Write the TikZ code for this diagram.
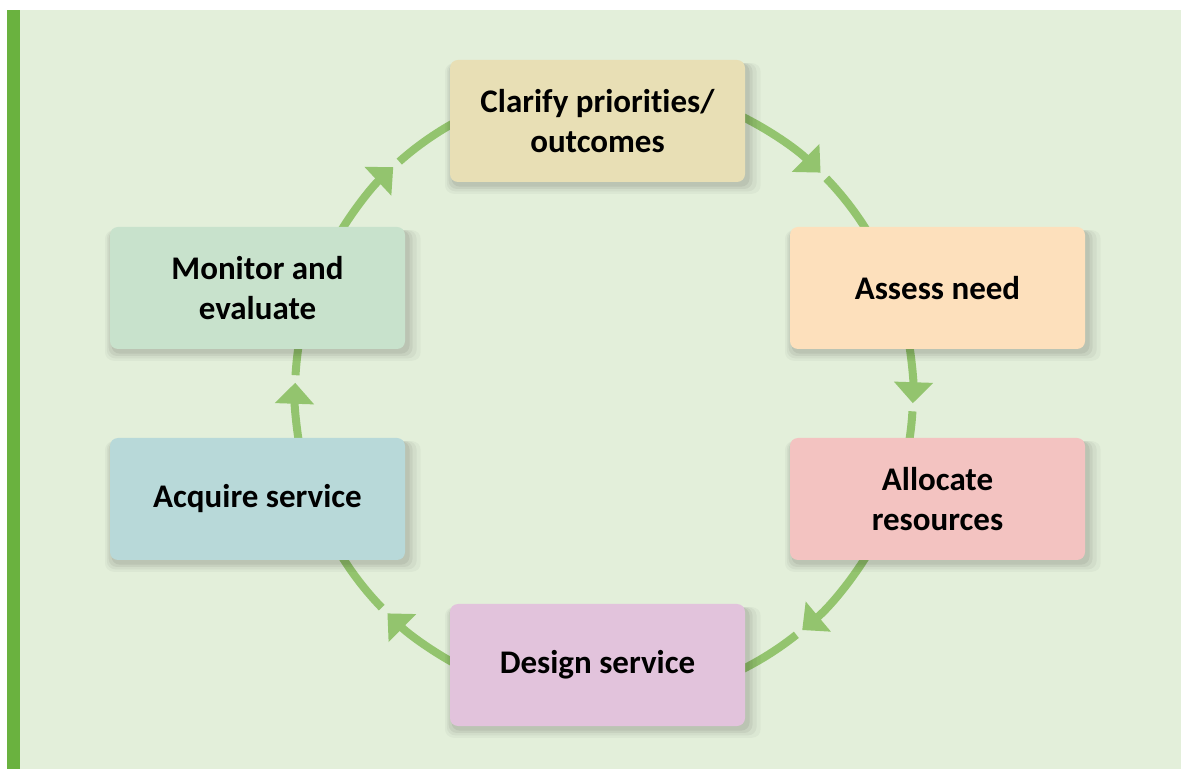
\documentclass[tikz,border=0pt]{standalone}
\usepackage{fontspec}
\setmainfont{Carlito}[Ligatures=NoCommon]
\usetikzlibrary{arrows.meta,shadows,calc}
\definecolor{bgc}{HTML}{E3EFDA}
\definecolor{barc}{HTML}{6AB23F}
\definecolor{arrc}{HTML}{93C46E}
\definecolor{cTop}{HTML}{E8DFB5}
\definecolor{cAssess}{HTML}{FDE0BC}
\definecolor{cAlloc}{HTML}{F3C3C1}
\definecolor{cDesign}{HTML}{E2C3DC}
\definecolor{cAcquire}{HTML}{B8D9D9}
\definecolor{cMonitor}{HTML}{C8E2CC}
\begin{document}
\begin{tikzpicture}[x=1pt,y=1pt,
  box/.style={rounded corners=8pt, minimum width=295pt, minimum height=122pt,
    align=center, inner sep=0pt, text=black,
    font=\fontsize{33}{40}\selectfont\bfseries,
    general shadow={fill=black,opacity=0.03,shadow xshift=5pt,shadow yshift=-7pt,shadow scale=1.07},
    general shadow={fill=black,opacity=0.04,shadow xshift=4pt,shadow yshift=-6pt,shadow scale=1.05},
    general shadow={fill=black,opacity=0.05,shadow xshift=3pt,shadow yshift=-5pt,shadow scale=1.03},
    general shadow={fill=black,opacity=0.06,shadow xshift=3pt,shadow yshift=-4pt,shadow scale=1.01}},
  flow/.style={draw=arrc, line width=8pt},
  tipped/.style={-{Triangle[length=21pt,width=38pt]}}]
\useasboundingbox (0,0) rectangle (1181,769);
\fill[white] (0,0) rectangle (1181,769);
\fill[bgc] (20,0) rectangle (1181,759);
\fill[barc] (7,0) rectangle (20,759);
\coordinate (ctr) at (604,376);
% arcs
\draw[flow,tipped] ($(ctr)+(64:309)$) arc[start angle=64,end angle=45.5,radius=309];
\draw[flow] ($(ctr)+(44:309)$) arc[start angle=44,end angle=31,radius=309];
\draw[flow,tipped] ($(ctr)+(10:309)$) arc[start angle=10,end angle=-1.9,radius=309];
\draw[flow] ($(ctr)+(-3.4:309)$) arc[start angle=-3.4,end angle=-10,radius=309];
\draw[flow,tipped] ($(ctr)+(-31:309)$) arc[start angle=-31,end angle=-50.1,radius=309];
\draw[flow] ($(ctr)+(-51.5:309)$) arc[start angle=-51.5,end angle=-64,radius=309];
\draw[flow,tipped] ($(ctr)+(-118:309)$) arc[start angle=-118,end angle=-134.5,radius=309];
\draw[flow] ($(ctr)+(-136:309)$) arc[start angle=-136,end angle=-149,radius=309];
\draw[flow,tipped] ($(ctr)+(190:309)$) arc[start angle=190,end angle=178.1,radius=309];
\draw[flow] ($(ctr)+(176.7:309)$) arc[start angle=176.7,end angle=170,radius=309];
\draw[flow,tipped] ($(ctr)+(149:309)$) arc[start angle=149,end angle=133,radius=309];
\draw[flow] ($(ctr)+(131.5:309)$) arc[start angle=131.5,end angle=118,radius=309];
% boxes
\node[box,fill=cTop] (clarify) at (597.5,648) {Clarify priorities/\\outcomes};
\node[box,fill=cAssess] (assess) at (937.5,481) {Assess need};
\node[box,fill=cAlloc] (allocate) at (937.5,270) {Allocate\\resources};
\node[box,fill=cDesign] (design) at (597.5,104) {Design service};
\node[box,fill=cAcquire] (acquire) at (257.5,270) {Acquire service};
\node[box,fill=cMonitor] (monitor) at (257.5,481) {Monitor and\\evaluate};
\end{tikzpicture}
\end{document}
